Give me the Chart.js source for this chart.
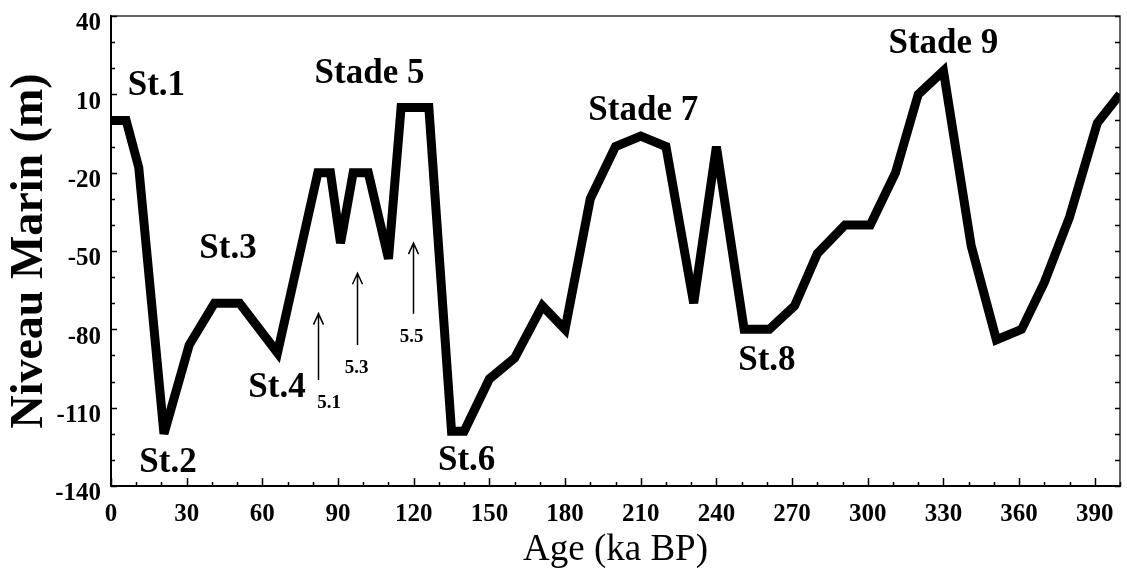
<!DOCTYPE html>
<html>
<head>
<meta charset="utf-8">
<script src="https://cdn.jsdelivr.net/npm/chart.js@4.4.0/dist/chart.umd.min.js"></script>
<style>
  html, body { margin: 0; padding: 0; background: #fff; }
  #wrap { width: 1127px; height: 572px; }
</style>
</head>
<body>
<div id="wrap"><canvas id="chart-area"></canvas></div>
<script>
// sea level curve (ka BP, m)
var ages   = [0, 6, 11, 21, 31, 41, 51, 66, 82, 87, 91, 96, 102, 110, 115, 126, 135, 140, 150, 160, 171, 180,
              190, 200, 210, 220, 231, 240, 251, 261, 271, 280, 291, 301, 311, 320, 330, 341, 351, 361, 370, 380, 391, 400];
var levels = [0, 0, -18, -120, -86, -70, -70, -89, -20, -20, -47, -20, -20, -53, 5, 5, -119, -119, -99, -91, -71, -80,
              -30, -10, -6, -10, -70, -10, -80, -80, -71, -51, -40, -40, -20, 10, 19, -48, -84, -80, -62, -37, -1, 10];

var xTickValues = [0, 30, 60, 90, 120, 150, 180, 210, 240, 270, 300, 330, 360, 390];
var yTickValues = [-140, -110, -80, -50, -20, 10, 40];

var stageNames  = ['St.1', 'St.2', 'St.3', 'St.4', 'Stade 5', 'St.6', 'Stade 7', 'St.8', 'Stade 9'];
var stageAges   = [18, 22.6, 46.4, 65.8, 102.5, 141, 211, 260, 330];
var stageLevels = [9.7, -134.6, -52.7, -106, 14.3, -133.8, 0, -95.5, 26];

var subNames   = ['5.1', '5.3', '5.5'];
var subAges    = [86.5, 97.4, 119.2];
var subLevels  = [-110.2, -96.8, -84.7];
var arrowAges  = [82.2, 97.6, 119.6];
var arrowTips  = [-74, -58.5, -47];
var arrowBases = [-99.4, -86, -74];

var serif = '"Liberation Serif", "Times New Roman", serif';

var decor = {
    id: 'decor',
    beforeDatasetsDraw: function (chart) {
        // blunt the sharpest V tips like the scanned figure
        chart.ctx.miterLimit = 3.5;
    },
    afterDatasetsDraw: function (chart) {
        var ctx = chart.ctx, xs = chart.scales.x, ys = chart.scales.y, a = chart.chartArea;
        ctx.save();
        // top and right frame
        ctx.strokeStyle = '#333';
        ctx.lineWidth = 1.5;
        ctx.beginPath();
        ctx.moveTo(a.left, a.top); ctx.lineTo(a.right, a.top); ctx.lineTo(a.right, a.bottom);
        ctx.stroke();
        // inner ticks
        ctx.strokeStyle = '#000';
        ctx.lineWidth = 1.5;
        ctx.beginPath();
        for (var v = -140; v <= 40; v += 10) {
            var py = Math.round(ys.getPixelForValue(v)) + 0.5;
            var len = (v + 140) % 30 === 0 ? 6 : 4;
            ctx.moveTo(a.left, py); ctx.lineTo(a.left + len, py);
            ctx.moveTo(a.right, py); ctx.lineTo(a.right - 5, py);
        }
        for (var t = 0; t <= 400; t += 10) {
            var px = Math.round(xs.getPixelForValue(t)) + 0.5;
            var l2 = t % 30 === 0 ? 8 : 4;
            ctx.moveTo(px, a.bottom); ctx.lineTo(px, a.bottom - l2);
        }
        ctx.stroke();
        // stage labels
        ctx.fillStyle = '#000';
        ctx.textAlign = 'center';
        ctx.textBaseline = 'alphabetic';
        ctx.font = 'bold 35px ' + serif;
        stageNames.forEach(function (s, i) {
            ctx.fillText(s, xs.getPixelForValue(stageAges[i]), ys.getPixelForValue(stageLevels[i]));
        });
        ctx.font = 'bold 19px ' + serif;
        subNames.forEach(function (s, i) {
            ctx.fillText(s, xs.getPixelForValue(subAges[i]), ys.getPixelForValue(subLevels[i]));
        });
        // arrows
        ctx.lineWidth = 1.5;
        arrowAges.forEach(function (x, i) {
            var px = Math.round(xs.getPixelForValue(x)) + 0.5;
            var top = ys.getPixelForValue(arrowTips[i]);
            var bot = ys.getPixelForValue(arrowBases[i]);
            ctx.beginPath();
            ctx.moveTo(px, bot); ctx.lineTo(px, top);
            ctx.moveTo(px - 5, top + 11); ctx.lineTo(px, top); ctx.lineTo(px + 5, top + 11);
            ctx.stroke();
        });
        ctx.restore();
    }
};

var config = {
    type: 'line',
    data: {
        datasets: [{
            data: ages.map(function (x, i) { return { x: x, y: levels[i] }; }),
            borderColor: '#000',
            borderWidth: 9,
            borderJoinStyle: 'miter',
            pointRadius: 0,
            tension: 0,
            fill: false
        }]
    },
    options: {
        responsive: true,
        maintainAspectRatio: false,
        animation: false,
        layout: { padding: { top: 16, right: 7, left: 0, bottom: 0 } },
        plugins: { legend: { display: false }, tooltip: { enabled: false } },
        scales: {
            x: {
                type: 'linear',
                min: 0,
                max: 400,
                afterFit: function (s) { s.height = 86; s.paddingLeft = 0; s.paddingRight = 0; },
                afterBuildTicks: function (s) { s.ticks = xTickValues.map(function (v) { return { value: v }; }); },
                grid: { display: false, drawTicks: false },
                border: { display: true, color: '#000', width: 2 },
                ticks: {
                    color: '#000',
                    padding: 14,
                    maxRotation: 0,
                    autoSkip: false,
                    font: { family: serif, size: 25, weight: 'bold' }
                },
                title: {
                    display: true,
                    text: 'Age (ka BP)',
                    color: '#000',
                    font: { family: serif, size: 37, weight: 'normal' },
                    padding: { top: 0, bottom: 0 }
                }
            },
            y: {
                min: -140,
                max: 40,
                afterFit: function (s) { s.width = 111; s.paddingTop = 0; s.paddingBottom = 0; },
                afterBuildTicks: function (s) { s.ticks = yTickValues.map(function (v) { return { value: v }; }); },
                grid: { display: false, drawTicks: false },
                border: { display: true, color: '#000', width: 2 },
                ticks: {
                    color: '#000',
                    padding: 10,
                    labelOffset: 8,
                    autoSkip: false,
                    font: { family: serif, size: 25, weight: 'bold' }
                },
                title: {
                    display: true,
                    text: 'Niveau Marin (m)',
                    color: '#000',
                    font: { family: serif, size: 46, weight: 'bold' },
                    padding: { top: 3, bottom: 0 }
                }
            }
        }
    },
    plugins: [decor]
};

window.onload = function () {
    var ctx = document.getElementById('chart-area').getContext('2d');
    window.myLine = new Chart(ctx, config);
};
</script>
</body>
</html>
